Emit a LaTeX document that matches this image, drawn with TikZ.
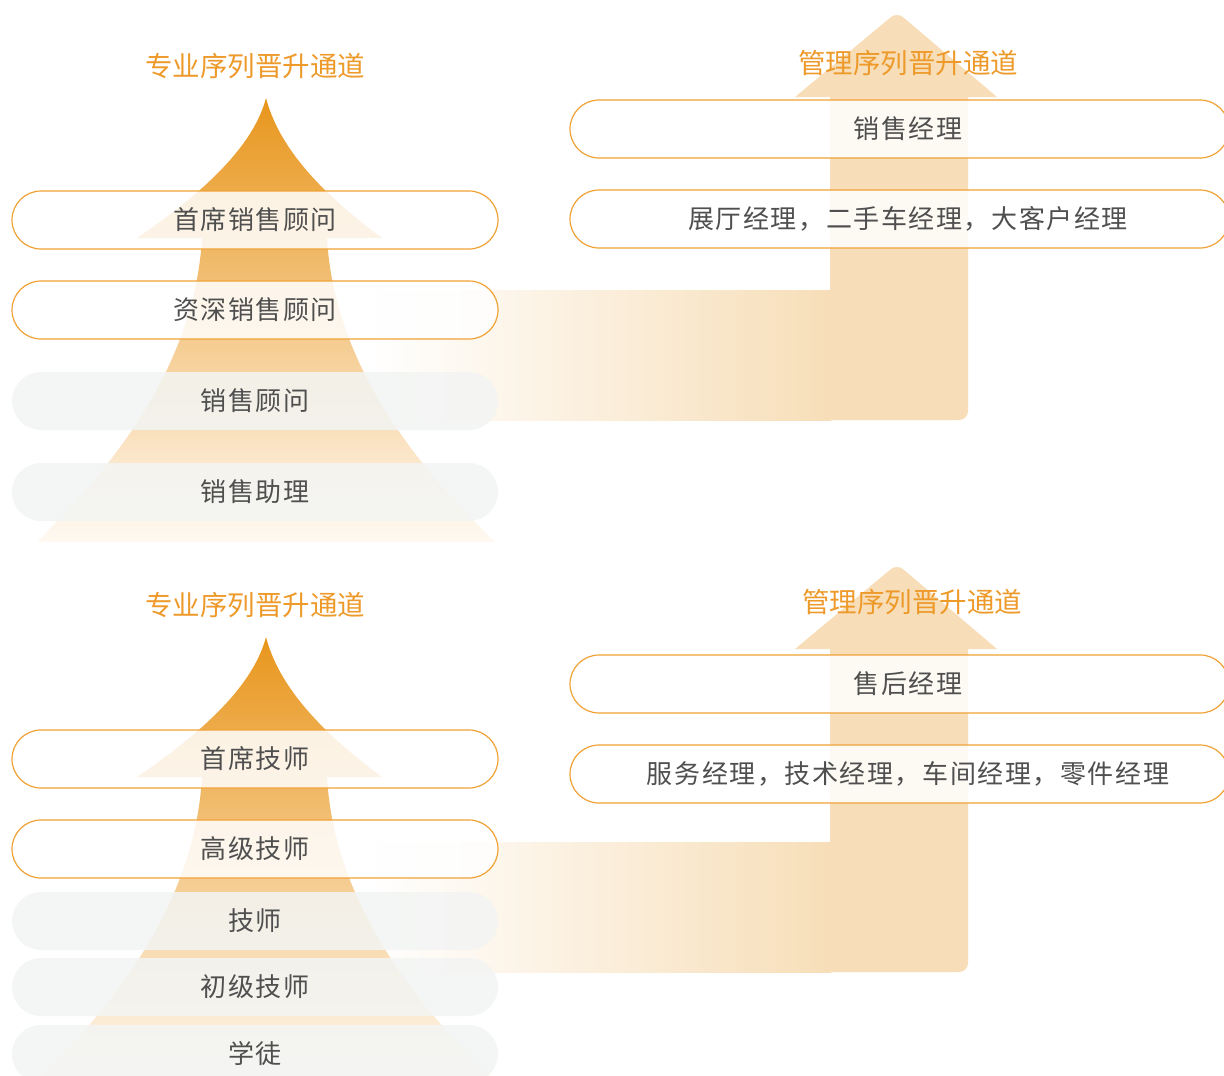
\documentclass[tikz,border=0pt]{standalone}
\usepackage{fontspec}
\newfontfamily\cjk[LetterSpace=6]{Noto Sans CJK SC}
\newfontfamily\cjktitle{Noto Sans CJK SC}
\usetikzlibrary{shapes.misc}
\definecolor{orng}{HTML}{EE9A2A}
\definecolor{capline}{HTML}{F0A236}
\definecolor{txt}{HTML}{4F4F4F}
\definecolor{pyrtop}{HTML}{E8961C}
\definecolor{pyrbot}{HTML}{FFF9F2}
\definecolor{arr}{HTML}{F7DEB8}
\definecolor{capgray}{HTML}{F3F5F4}
\tikzset{
  capsule/.style={rounded rectangle, minimum height=58pt, inner sep=0pt, draw=capline, line width=1.2pt, fill=white, fill opacity=0.85},
  graycap/.style={rounded rectangle, minimum height=58pt, inner sep=0pt, draw=none, fill=capgray, fill opacity=0.85},
  leftcap/.style={minimum width=486pt},
  rightcap/.style={minimum width=659pt},
  lbl/.style={text=txt, font=\cjk\fontsize{26pt}{30pt}\selectfont, inner sep=0pt},
  ttl/.style={text=orng, font=\cjktitle\fontsize{27.5pt}{32pt}\selectfont, inner sep=0pt},
}
\newcommand{\pyramid}{%
  \shade[top color=pyrtop, bottom color=pyrbot]
    (266,98) .. controls (255,140) and (215,185) .. (137,238) -- (202,238)
    .. controls (195,360) and (120,460) .. (37,542) -- (495,542)
    .. controls (410,460) and (334,360) .. (327,238) -- (382,238)
    .. controls (310,185) and (277,140) .. (266,98) -- cycle;}
\newcommand{\mgrarrow}{%
  \shade[left color=white, right color=arr] (370,290) rectangle (831,420);
  \fill[arr] (830,420) -- (830,97) -- (795,97)
     [rounded corners=8] -- (897,12) [sharp corners] -- (997,97) -- (968,97)
     [rounded corners=9] -- (968,420) [sharp corners] -- (830,420) -- cycle;}
\begin{document}
\begin{tikzpicture}[x=1pt,y=-1pt]
\useasboundingbox (0,0) rectangle (1224,1076);
\clip (0,0) rectangle (1224,1076);
\fill[white] (0,0) rectangle (1224,1076);
% ---------- top section ----------
\mgrarrow
\pyramid
\node[capsule, leftcap] (a1) at (255,220) {};
\node[capsule, leftcap] (a2) at (255,310) {};
\node[graycap, leftcap] (a3) at (255,401) {};
\node[graycap, leftcap] (a4) at (255,492) {};
\node[capsule, rightcap] (b1) at (899.5,129) {};
\node[capsule, rightcap] (b2) at (899.5,219) {};
\node[lbl] (ta1) at (a1.center) {首席销售顾问};
\node[lbl] (ta2) at (a2.center) {资深销售顾问};
\node[lbl] (ta3) at (a3.center) {销售顾问};
\node[lbl] (ta4) at (a4.center) {销售助理};
\node[lbl] (tb1) at (908,129) {销售经理};
\node[lbl] (tb2) at (908,219) {展厅经理，二手车经理，大客户经理};
\node[ttl] (h1) at (255,66) {专业序列晋升通道};
\node[ttl] (h2) at (908,63) {管理序列晋升通道};
% ---------- bottom section ----------
\begin{scope}[shift={(0,552)}]
\mgrarrow
\end{scope}
\begin{scope}[shift={(0,539)}]
\pyramid
\end{scope}
\node[capsule, leftcap] (c1) at (255,759) {};
\node[capsule, leftcap] (c2) at (255,849) {};
\node[graycap, leftcap] (c3) at (255,921) {};
\node[graycap, leftcap] (c4) at (255,987) {};
\node[graycap, leftcap] (c5) at (255,1054) {};
\node[capsule, rightcap] (d1) at (899.5,684) {};
\node[capsule, rightcap] (d2) at (899.5,774) {};
\node[lbl] (tc1) at (c1.center) {首席技师};
\node[lbl] (tc2) at (c2.center) {高级技师};
\node[lbl] (tc3) at (c3.center) {技师};
\node[lbl] (tc4) at (c4.center) {初级技师};
\node[lbl] (tc5) at (c5.center) {学徒};
\node[lbl] (td1) at (908,684) {售后经理};
\node[lbl] (td2) at (908,774) {服务经理，技术经理，车间经理，零件经理};
\node[ttl] (h3) at (255,605) {专业序列晋升通道};
\node[ttl] (h4) at (912,602) {管理序列晋升通道};
\end{tikzpicture}
\end{document}
